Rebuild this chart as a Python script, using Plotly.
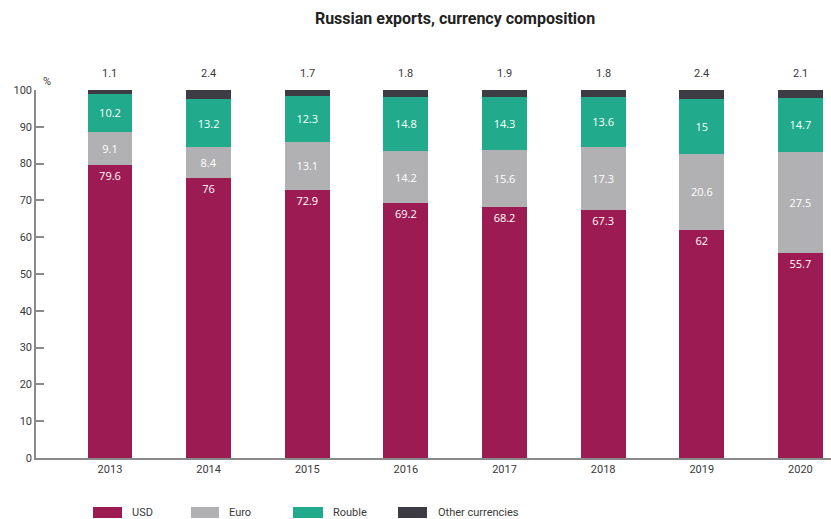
import plotly.graph_objects as go

# Currency composition of Russian exports, % of total
years = ["2013", "2014", "2015", "2016", "2017", "2018", "2019", "2020"]
usd = [79.6, 76, 72.9, 69.2, 68.2, 67.3, 62, 55.7]
euro = [9.1, 8.4, 13.1, 14.2, 15.6, 17.3, 20.6, 27.5]
rouble = [10.2, 13.2, 12.3, 14.8, 14.3, 13.6, 15, 14.7]
other = [1.1, 2.4, 1.7, 1.8, 1.9, 1.8, 2.4, 2.1]

series = [
    ("USD", usd, "#9c1b52", "end"),
    ("Euro", euro, "#b1b1b3", "middle"),
    ("Rouble", rouble, "#21aa8c", "middle"),
    ("Other currencies", other, "#3d3c44", None),
]

FONT = "Roboto, sans-serif"
TEXT = "#3a3a3a"

fig = go.Figure()
for name, vals, color, anchor in series:
    fig.add_trace(go.Bar(
        x=list(range(len(years))), y=vals, name=name,
        marker=dict(color=color, line=dict(width=0)),
        width=0.455,
        text=[str(v) for v in vals] if anchor else None,
        textposition="inside" if anchor else "none",
        insidetextanchor=anchor if anchor else "middle",
        textfont=dict(color="white", size=11, family="Open Sans, sans-serif"),
        textangle=0,
        showlegend=False,
    ))

# "Other currencies" values shown above each bar
for i, v in enumerate(other):
    fig.add_annotation(x=i, y=100, xref="x", yref="y", text=str(v),
                       showarrow=False, yshift=17,
                       font=dict(size=11, color=TEXT, family=FONT))
fig.add_annotation(x=0, y=1, xref="paper", yref="paper", text="%",
                   showarrow=False, xshift=5, yshift=17,
                   font=dict(size=11, color=TEXT, family=FONT))

# Legend: swatches and labels along the bottom
legend_pos = [(93, 122, 130), (191, 219, 227), (293, 323, 331), (398, 427, 436)]
W, H = 831, 519
for (name, _, color, _), (x0, x1, tx) in zip(series, legend_pos):
    fig.add_shape(type="rect", xref="paper", yref="paper",
                  x0=(x0 - 36) / (W - 36), x1=(x1 - 36) / (W - 36),
                  y0=-(507 - 458) / 368, y1=-(518 - 458) / 368,
                  fillcolor=color, line=dict(width=0))
    fig.add_annotation(x=(tx - 36) / (W - 36), y=-(512.5 - 458) / 368,
                       xref="paper", yref="paper", text=name,
                       xanchor="left", yanchor="middle", showarrow=False,
                       font=dict(size=11, color=TEXT, family=FONT))

fig.update_layout(
    width=W, height=H,
    barmode="stack",
    plot_bgcolor="white", paper_bgcolor="white",
    margin=dict(l=36, r=0, t=90, b=61),
    title=dict(text="<b>Russian exports, currency composition</b>",
               x=455 / W, xanchor="center", y=1 - 18 / H, yanchor="middle",
               font=dict(size=16, color="#222222", family=FONT)),
    xaxis=dict(
        range=[-0.75, 7.31], tickmode="array",
        tickvals=list(range(len(years))), ticktext=years,
        showline=True, linecolor="#8a8a8a", linewidth=1.5,
        ticks="", showgrid=False, zeroline=False,
        tickfont=dict(size=11, color=TEXT, family=FONT),
    ),
    yaxis=dict(
        range=[0, 100], tickvals=list(range(0, 101, 10)),
        showline=True, linecolor="#8a8a8a", linewidth=1.5,
        ticks="inside", ticklen=8, tickcolor="#8a8a8a", tickwidth=1.5,
        showgrid=False, zeroline=False,
        tickfont=dict(size=11, color=TEXT, family=FONT),
    ),
    uniformtext=dict(mode="show", minsize=8),
)

fig.write_html("out.html")
